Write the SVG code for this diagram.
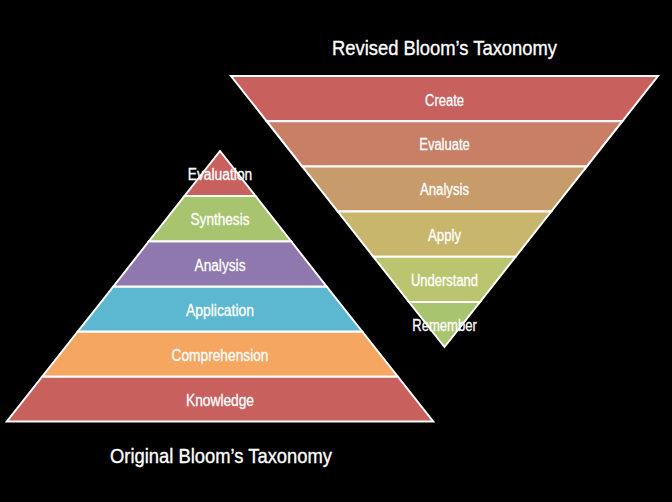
<svg xmlns="http://www.w3.org/2000/svg" width="672" height="502" viewBox="0 0 672 502">
<style>
.band{stroke:#ffffff;stroke-width:2;stroke-linejoin:miter}
.lbl{font-family:"Liberation Sans",Arial,sans-serif;font-size:16px;fill:#ffffff;stroke:#ffffff;stroke-width:0.3;text-anchor:middle}
.ttl{font-family:"Liberation Sans",Arial,sans-serif;font-size:21px;fill:#ffffff;stroke:#ffffff;stroke-width:0.35;text-anchor:middle}
.red{fill:#C8605E}
</style>
<rect x="0" y="0" width="672" height="502" fill="#000000"/>

<g id="original-pyramid">
<g id="o-knowledge"><polygon class="band red" points="42.3,376.5 397.7,376.5 433.2,421.5 6.8,421.5"/><text class="lbl" x="220" y="406" textLength="68" lengthAdjust="spacingAndGlyphs">Knowledge</text></g>
<g id="o-comprehension"><polygon class="band" fill="#F5A660" points="77.8,331.5 362.2,331.5 397.7,376.5 42.3,376.5"/><text class="lbl" x="220" y="360.7" textLength="97" lengthAdjust="spacingAndGlyphs">Comprehension</text></g>
<g id="o-application"><polygon class="band" fill="#5CB8D0" points="113.4,286.5 326.6,286.5 362.2,331.5 77.8,331.5"/><text class="lbl" x="220" y="316" textLength="68" lengthAdjust="spacingAndGlyphs">Application</text></g>
<g id="o-analysis"><polygon class="band" fill="#8E78AE" points="148.9,241.2 291.1,241.2 326.6,286.5 113.4,286.5"/><text class="lbl" x="220" y="270.7" textLength="51" lengthAdjust="spacingAndGlyphs">Analysis</text></g>
<g id="o-synthesis"><polygon class="band" fill="#A9C46F" points="184.5,196 255.5,196 291.1,241.2 148.9,241.2"/><text class="lbl" x="220" y="224.5" textLength="59" lengthAdjust="spacingAndGlyphs">Synthesis</text></g>
<g id="o-evaluation"><polygon class="band red" points="220,151 255.5,196 184.5,196"/><text class="lbl" x="220" y="179.5" textLength="64.5" lengthAdjust="spacingAndGlyphs">Evaluation</text></g>
</g>

<g id="revised-pyramid">
<g id="r-create"><polygon class="band red" points="231,76 658,76 622.4,121.2 266.6,121.2"/><text class="lbl" x="444.5" y="105.7" textLength="39" lengthAdjust="spacingAndGlyphs">Create</text></g>
<g id="r-evaluate"><polygon class="band" fill="#C87F66" points="266.6,121.2 622.4,121.2 586.8,166.4 302.2,166.4"/><text class="lbl" x="444.5" y="150" textLength="50.5" lengthAdjust="spacingAndGlyphs">Evaluate</text></g>
<g id="r-analysis"><polygon class="band" fill="#C89C6A" points="302.2,166.4 586.8,166.4 551.2,211.6 337.8,211.6"/><text class="lbl" x="444.5" y="195" textLength="49" lengthAdjust="spacingAndGlyphs">Analysis</text></g>
<g id="r-apply"><polygon class="band" fill="#C8B66C" points="337.8,211.6 551.2,211.6 515.6,256.8 373.4,256.8"/><text class="lbl" x="444.5" y="240.7" textLength="33" lengthAdjust="spacingAndGlyphs">Apply</text></g>
<g id="r-understand"><polygon class="band" fill="#BBC56F" points="373.4,256.8 515.6,256.8 480,302 409,302"/><text class="lbl" x="444.5" y="286" textLength="67" lengthAdjust="spacingAndGlyphs">Understand</text></g>
<g id="r-remember"><polygon class="band" fill="#A9C46F" points="409,302 480,302 444.5,347"/><text class="lbl" x="444.5" y="331" textLength="64.5" lengthAdjust="spacingAndGlyphs">Remember</text></g>
</g>

<g id="title-revised"><text class="ttl" x="444.5" y="55" textLength="225" lengthAdjust="spacingAndGlyphs">Revised Bloom’s Taxonomy</text></g>
<g id="title-original"><text class="ttl" x="221" y="463" textLength="222" lengthAdjust="spacingAndGlyphs">Original Bloom’s Taxonomy</text></g>
</svg>
